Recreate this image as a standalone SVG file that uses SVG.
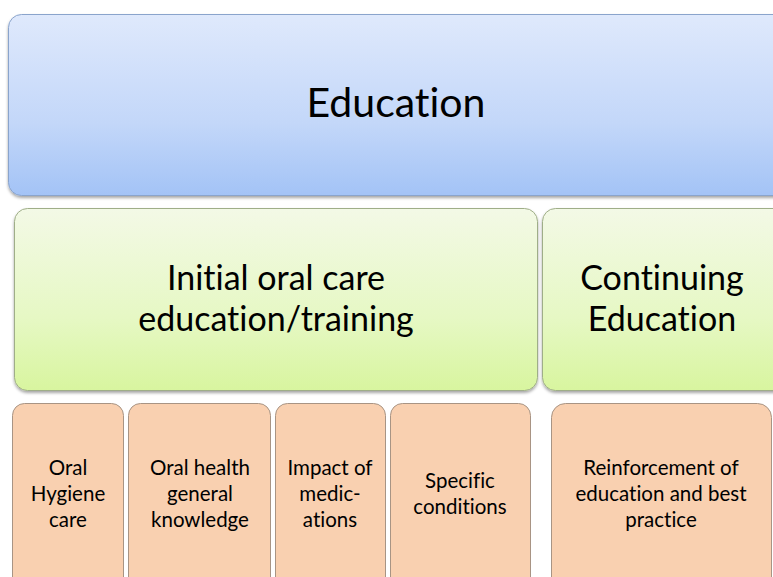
<svg xmlns="http://www.w3.org/2000/svg" width="773" height="577" viewBox="0 0 773 577">
<defs>
<linearGradient id="gBlue" x1="0" y1="0" x2="0" y2="1"><stop offset="0" stop-color="#dfe9fc"/><stop offset="0.6" stop-color="#c3d7f9"/><stop offset="1" stop-color="#a3c3f6"/></linearGradient>
<linearGradient id="gGreen" x1="0" y1="0" x2="0" y2="1"><stop offset="0" stop-color="#f3f9e6"/><stop offset="0.6" stop-color="#e6f8c4"/><stop offset="1" stop-color="#d8f59f"/></linearGradient>
<filter id="sh" x="-5%" y="-5%" width="110%" height="115%"><feDropShadow dx="0" dy="2" stdDeviation="1.5" flood-color="#000" flood-opacity="0.35"/></filter>
</defs>
<style>
.t{font-family:"Lato","Open Sans","Liberation Sans",sans-serif;fill:#000;text-anchor:middle;font-variant-ligatures:none;font-feature-settings:"liga" 0}
.big{font-size:41px}
.mid{font-size:34px}
.sm{font-size:20.5px}
.blue{fill:url(#gBlue);stroke:#8aa4cc;stroke-width:1}
.green{fill:url(#gGreen);stroke:#9fae88;stroke-width:1}
.peach{fill:#f9d0b0;stroke:#a89484;stroke-width:1}
</style>
<rect width="773" height="577" fill="#fff"/>
<g id="education">
<rect class="blue" x="8.5" y="14.5" width="780" height="181" rx="13" filter="url(#sh)"/>
<text class="t big" x="396" y="117">Education</text>
</g>
<g id="initial">
<rect class="green" x="14.5" y="208.5" width="523" height="182" rx="13" filter="url(#sh)"/>
<text class="t mid" x="276" y="290">Initial oral care</text>
<text class="t mid" x="276" y="331">education/training</text>
</g>
<g id="continuing">
<rect class="green" x="542.5" y="208.5" width="250" height="182" rx="13" filter="url(#sh)"/>
<text class="t mid" x="662" y="290">Continuing</text>
<text class="t mid" x="662" y="331">Education</text>
</g>
<g id="oral-hygiene">
<rect class="peach" x="12.5" y="403.5" width="111" height="190" rx="12"/>
<text class="t sm" x="68" y="475">Oral</text>
<text class="t sm" x="68" y="501">Hygiene</text>
<text class="t sm" x="68" y="527">care</text>
</g>
<g id="oral-health">
<rect class="peach" x="128.5" y="403.5" width="142" height="190" rx="12"/>
<text class="t sm" x="200" y="475">Oral health</text>
<text class="t sm" x="200" y="501">general</text>
<text class="t sm" x="200" y="527">knowledge</text>
</g>
<g id="medications">
<rect class="peach" x="275.5" y="403.5" width="110" height="190" rx="12"/>
<text class="t sm" x="330" y="475">Impact of</text>
<text class="t sm" x="330" y="501">medic-</text>
<text class="t sm" x="330" y="527">ations</text>
</g>
<g id="specific">
<rect class="peach" x="390.5" y="403.5" width="140" height="190" rx="12"/>
<text class="t sm" x="460" y="488">Specific</text>
<text class="t sm" x="460" y="514">conditions</text>
</g>
<g id="reinforcement">
<rect class="peach" x="551.5" y="403.5" width="220" height="190" rx="14"/>
<text class="t sm" x="661" y="475">Reinforcement of</text>
<text class="t sm" x="661" y="501">education and best</text>
<text class="t sm" x="661" y="527">practice</text>
</g>
<g id="connectors"/>
</svg>
